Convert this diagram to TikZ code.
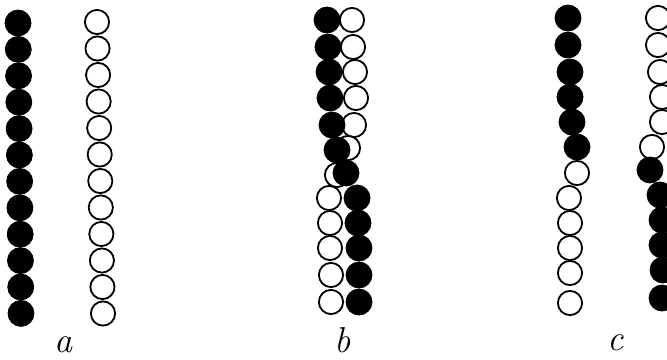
\documentclass[tikz,border=0pt]{standalone}
\usetikzlibrary{positioning}

\begin{document}
\begin{tikzpicture}[x=1pt, y=-1pt,
  blackbead/.style={circle, fill=black, draw=black, line width=0.8pt, minimum size=26pt, inner sep=0pt},
  whitebead/.style={circle, fill=white, draw=black, line width=1.8pt, minimum size=24.2pt, inner sep=0pt},
  panellabel/.style={font=\fontsize{36}{36}\selectfont\itshape, inner sep=0pt}]

\useasboundingbox (0,0) rectangle (667,359);

% panel a
\foreach \i in {1,...,12} {
  \node[whitebead] (a-w\i) at ({97+6*(\i-1)/11}, {22+(\i-1)*26.5}) {};
  \node[blackbead] (a-b\i) at ({18+3*(\i-1)/11}, {23+(\i-1)*26.4}) {};
}
\node[panellabel] (la) at (63,345) {a};

% panel b
\foreach \x/\y [count=\i] in {352/20,353/47,355/72,356/98,354/125,348/148,337/175,329/198,330/223,330/248,331/275,331/302}
  \node[whitebead] (b-w\i) at (\x,\y) {};
\foreach \x/\y [count=\i] in {327/20,328/47,329/72,330/98,332/125,337/150,346/173,357/198,358/223,359/248,359/275,359/302}
  \node[blackbead] (b-b\i) at (\x,\y) {};
\node[panellabel] (lb) at (343,340) {b};

% panel c
\foreach \x/\y [count=\i] in {577/173,569/198,570/223,570/248,570/273,570/303,658/18,658/45,660/72,662/97,662/122,652/147}
  \node[whitebead] (c-w\i) at (\x,\y) {};
\foreach \x/\y [count=\i] in {568/18,568/45,570/72,570/97,572/122,577/147,650/170,660/195,662/220,662/245,663/270,662/298}
  \node[blackbead] (c-b\i) at (\x,\y) {};
\node[panellabel] (lc) at (616,343) {c};

\end{tikzpicture}
\end{document}
